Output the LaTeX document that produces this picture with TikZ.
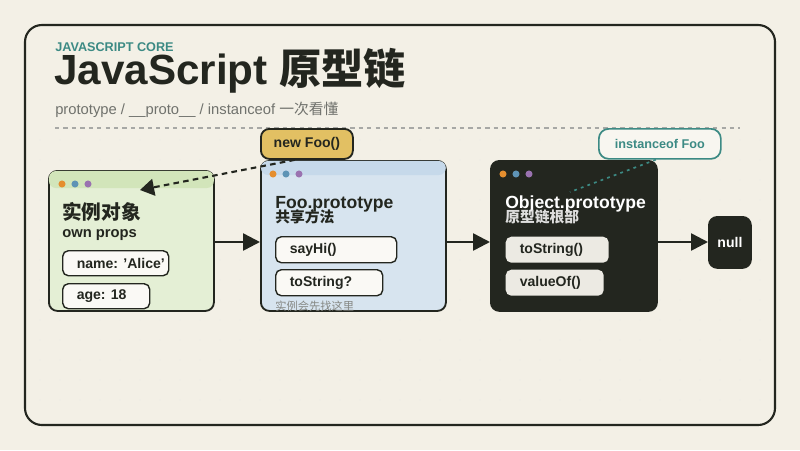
\documentclass[tikz,border=0pt]{standalone}
\usepackage{fontspec}
\setmainfont{Liberation Sans}
\newfontfamily\cjk{Noto Sans CJK SC}
\usetikzlibrary{arrows.meta,positioning}
\definecolor{paper}{HTML}{F3F0E6}
\definecolor{ink}{HTML}{23261F}
\definecolor{teal}{HTML}{3C8A84}
\definecolor{greenbox}{HTML}{E4EFD5}
\definecolor{greenhead}{HTML}{D2E5BA}
\definecolor{bluebox}{HTML}{D7E4EF}
\definecolor{bluehead}{HTML}{C6D9EA}
\definecolor{gold}{HTML}{E2C063}
\definecolor{pillgray}{HTML}{ECEAE3}
\definecolor{dotO}{HTML}{E58E2E}
\definecolor{dotB}{HTML}{5E93B5}
\definecolor{dotP}{HTML}{9A72B0}
\newcommand\pilltext[2]{\makebox[\dimexpr 0.025cm*#1 - 20pt\relax][l]{#2}}
\tikzset{
  card/.style={draw=ink, line width=1.3pt, rounded corners=6pt, anchor=north west, inner sep=0pt},
  pill/.style={draw=ink, line width=1pt, rounded corners=4pt, fill=white!60!paper, anchor=north west,
    inner xsep=10pt, inner sep=0pt, font=\bfseries, text=ink},
  chain/.style={-{Triangle[length=12pt,width=12pt]}, line width=1.8pt, draw=ink},
  winDot/.style={circle, inner sep=0pt, minimum size=5pt},
}
\begin{document}
\begin{tikzpicture}[x=0.025cm,y=-0.025cm]
  \fill[paper] (0,0) rectangle (800,450);
  \useasboundingbox (0,0) rectangle (800,450);
  \draw[ink, line width=1.5pt, rounded corners=12pt, fill=paper] (25,25) rectangle (775,425);
  % faint dot grid
  \foreach \gx in {40,60,...,760}
    \foreach \gy in {140,160,...,410}
      \fill[ink!10] (\gx,\gy) circle (0.5pt);

  % header
  \node[anchor=base west, inner sep=0pt, text=teal, font=\bfseries\small] (kicker) at (55,51) {JAVASCRIPT CORE};
  \node[anchor=base west, inner sep=0pt, text=ink, font=\bfseries\fontsize{30}{33}\selectfont] (title) at (54,84) {JavaScript {\cjk\bfseries 原型链}};
  \node[anchor=base west, inner sep=0pt, text=ink!65, font=\fontsize{10.5}{12}\selectfont] (subtitle) at (55,114) {prototype / \_\_proto\_\_ / instanceof {\cjk 一次看懂}};
  \draw[ink!40, dashed, line width=0.8pt] (55,128) -- (740,128);

  % instance object
  \node[card, fill=greenbox, minimum width=165*0.025cm, minimum height=140*0.025cm] (inst) at (48,170) {};
  \fill[greenhead, rounded corners=5pt] ([shift={(0.7pt,-0.7pt)}]inst.north west) rectangle ([shift={(-0.7pt,-18*0.025cm)}]inst.north east);
  \node[winDot, fill=dotO] at (62,184) {};
  \node[winDot, fill=dotB] at (75,184) {};
  \node[winDot, fill=dotP] at (88,184) {};
  \node[anchor=base west, inner sep=0pt, font=\cjk\bfseries\fontsize{14}{16}\selectfont, text=ink] (instT) at (62,219) {实例对象};
  \node[anchor=base west, inner sep=0pt, font=\bfseries\fontsize{10.5}{12}\selectfont, text=ink] (instS) at (62,237) {own props};
  \node[pill, minimum width=106*0.025cm, minimum height=25*0.025cm] (name) at (62,250) {\pilltext{106}{name: 'Alice'}};
  \node[pill, minimum width=87*0.025cm, minimum height=25*0.025cm] (age) at (62,283) {\pilltext{87}{age: 18}};

  % Foo.prototype
  \node[card, fill=bluebox, minimum width=185*0.025cm, minimum height=150*0.025cm] (foo) at (260,160) {};
  \fill[bluehead, rounded corners=5pt] ([shift={(0.7pt,-0.7pt)}]foo.north west) rectangle ([shift={(-0.7pt,-15*0.025cm)}]foo.north east);
  \node[winDot, fill=dotO] at (273,174) {};
  \node[winDot, fill=dotB] at (286,174) {};
  \node[winDot, fill=dotP] at (299,174) {};
  \node[anchor=base west, inner sep=0pt, font=\bfseries\fontsize{12.5}{14}\selectfont, text=ink] (fooT) at (275,208) {Foo.prototype};
  \node[anchor=base west, inner sep=0pt, font=\cjk\bfseries\fontsize{10.5}{12}\selectfont, text=ink] (fooS) at (275,222) {共享方法};
  \node[pill, minimum width=121*0.025cm, minimum height=26*0.025cm] (sayhi) at (275,236) {\pilltext{121}{sayHi()}};
  \node[pill, minimum width=107*0.025cm, minimum height=26*0.025cm] (tostr) at (275,269) {\pilltext{107}{toString?}};
  \node[anchor=base west, inner sep=0pt, font=\cjk\fontsize{8}{9}\selectfont, text=ink!55] (note) at (275,310) {实例会先找这里};

  % Object.prototype
  \node[card, fill=ink, minimum width=166*0.025cm, minimum height=150*0.025cm] (obj) at (490,160) {};
  \node[winDot, fill=dotO] at (503,174) {};
  \node[winDot, fill=dotB] at (516,174) {};
  \node[winDot, fill=dotP] at (529,174) {};
  \node[anchor=base west, inner sep=0pt, font=\bfseries\fontsize{12.5}{14}\selectfont, text=white] (objT) at (505,208) {Object.prototype};
  \node[anchor=base west, inner sep=0pt, font=\cjk\bfseries\fontsize{10.5}{12}\selectfont, text=white!85!ink] (objS) at (505,222) {原型链根部};
  \node[pill, fill=pillgray, draw=none, minimum width=103*0.025cm, minimum height=26*0.025cm] (otostr) at (505,236) {\pilltext{103}{toString()}};
  \node[pill, fill=pillgray, draw=none, minimum width=98*0.025cm, minimum height=26*0.025cm] (ovalue) at (505,269) {\pilltext{98}{valueOf()}};

  % null
  \node[card, fill=ink, text=white, font=\bfseries, minimum width=42*0.025cm, minimum height=51*0.025cm] (null) at (708,216) {null};

  % chain
  \draw[chain] (inst.east |- 0,242) -- (foo.west |- 0,242);
  \draw[chain] (foo.east |- 0,242) -- (obj.west |- 0,242);
  \draw[chain] (obj.east |- 0,242) -- (null.west |- 0,242);

  % callouts
  \node[card, fill=gold, rounded corners=6pt, font=\bfseries, text=ink, minimum width=92*0.025cm, minimum height=30*0.025cm] (newfoo) at (260,128) {new Foo()};
  \coordinate (newTip) at (140,190);
  \draw[ink, line width=1.5pt, dash pattern=on 4pt off 3pt, -{Triangle[length=10pt,width=12pt]}] ([xshift=-0.3cm]newfoo.south) -- (newTip);
  \node[card, fill=paper!60!white, draw=teal, line width=1.2pt, rounded corners=7pt, font=\bfseries\small, text=teal, minimum width=122*0.025cm, minimum height=30*0.025cm] (inof) at (598,128) {instanceof Foo};
  \coordinate (inofTip) at (570,192);
  \draw[teal, line width=1.2pt, dash pattern=on 2pt off 3pt] ([xshift=-0.1cm]inof.south) -- (inofTip);
\end{tikzpicture}
\end{document}
